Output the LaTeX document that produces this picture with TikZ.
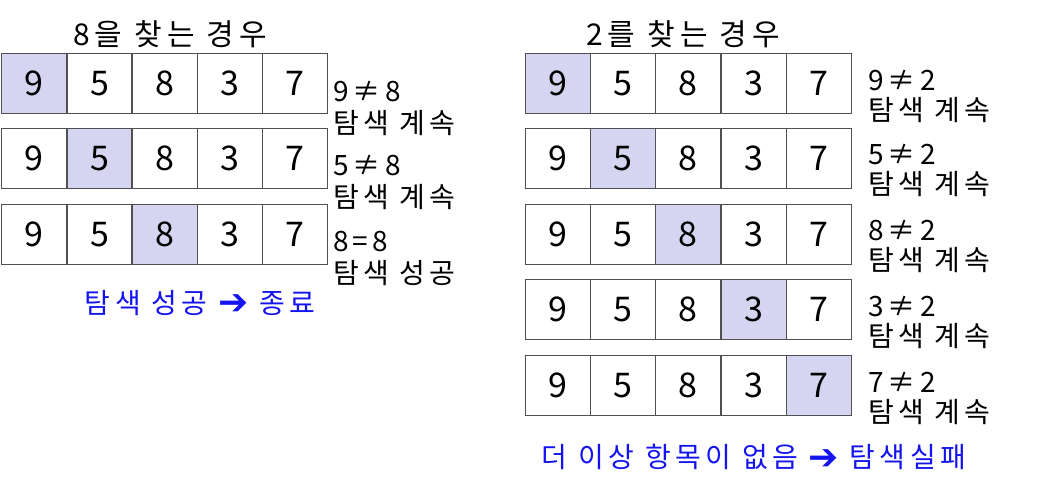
\documentclass[tikz,border=0pt]{standalone}
\usepackage{fontspec}
\setmainfont{Noto Sans CJK KR}
\newfontfamily\titlefont[LetterSpace=17]{Noto Sans CJK KR}
\newfontfamily\labfont[LetterSpace=15]{Noto Sans CJK KR}
\newfontfamily\bluefont[LetterSpace=16]{Noto Sans CJK KR}
\newfontfamily\symfont{DejaVu Sans}
\definecolor{hl}{RGB}{213,213,242}
\definecolor{bd}{RGB}{80,80,80}
\definecolor{bl}{RGB}{20,20,240}
\newcommand{\bigarrow}{{\symfont\fontsize{36}{36}\selectfont\raisebox{-1.5pt}{➔}}}
\begin{document}
\begin{tikzpicture}[x=1pt,y=-1pt,
  cell/.style={draw=bd, line width=1.3pt, minimum width=65.3pt, minimum height=60pt,
    inner sep=0pt, anchor=north west, font=\fontsize{34}{40}\selectfont},
  lab/.style={anchor=west, inner sep=0pt, font=\labfont\fontsize{28}{32}\selectfont},
  ttl/.style={inner sep=0pt, font=\titlefont\fontsize{30}{34}\selectfont},
  bluetxt/.style={inner sep=0pt, text=bl, font=\bluefont\fontsize{28}{32}\selectfont}]
\useasboundingbox (0,0) rectangle (1050,491);
% titles
\node[ttl] (t1) at (170,34) {8을 찾는 경우};
\node[ttl] (t2) at (683,34) {2를 찾는 경우};
% left rows
\foreach \r/\t/\a/\b in {1/53/9≠8/탐색 계속, 2/127.5/5≠8/탐색 계속, 3/203.5/8=8/탐색 성공}{
  \foreach \v [count=\c] in {9,5,8,3,7}{
    \ifnum\c=\r\relax\def\fc{hl}\else\def\fc{white}\fi
    \node[cell, fill=\fc] (L\r-\c) at ({1+(\c-1)*65.2},\t) {\v};
  }
  \node[lab] (La\r) at (333,\t+38) {\a};
  \node[lab] (Lb\r) at (333,\t+70) {\b};
}
% right rows
\foreach \r/\t/\a in {1/53/9≠2, 2/127.5/5≠2, 3/203.5/8≠2, 4/279/3≠2, 5/355/7≠2}{
  \foreach \v [count=\c] in {9,5,8,3,7}{
    \ifnum\c=\r\relax\def\fc{hl}\else\def\fc{white}\fi
    \node[cell, fill=\fc] (R\r-\c) at ({524.5+(\c-1)*65.3},\t) {\v};
  }
  \node[lab] (Ra\r) at (868,\t+27) {\a};
  \node[lab] (Rb\r) at (868,\t+57) {탐색 계속};
}
% conclusions
\node[bluetxt] (c1) at (200,303) {탐색 성공 \bigarrow{} 종료};
\node[bluetxt] (c2) at (754,457) {더 이상 항목이 없음 \bigarrow{} 탐색실패};
\end{tikzpicture}
\end{document}
